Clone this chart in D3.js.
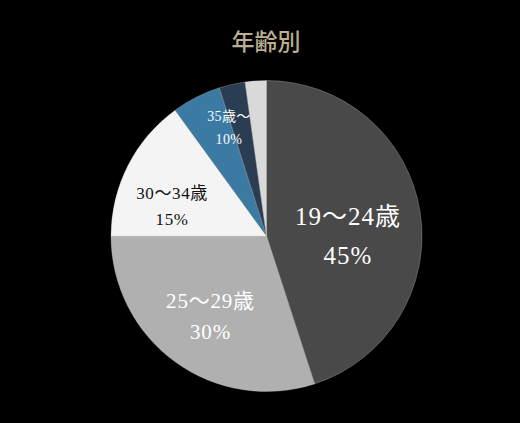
<!DOCTYPE html>
<html><head><meta charset="utf-8">
<script src="https://cdn.jsdelivr.net/npm/d3@7"></script>
<style>
html,body{margin:0;padding:0;background:#000;}
svg{display:block;}
text{font-family:"Liberation Serif","DejaVu Serif","Noto Sans CJK JP",serif;}
</style></head>
<body>
<svg id="chart" width="520" height="423"></svg>
<script>
const title = "年齢別";
const categories = ["19〜24歳","25〜29歳","30〜34歳","35〜39歳","40〜44歳","45歳〜"];
const values = [45, 30, 15, 5.1, 2.7, 2.2];
const colors = ["#494949","#b0b0b0","#f4f4f4","#3a7aa3","#2b3d53","#d9d9d9"];
const labelLines = [["19〜24歳","45%"],["25〜29歳","30%"],["30〜34歳","15%"],["35歳〜","10%"]];
const labelGroups = [[0],[1],[2],[3,4,5]];

const svg = d3.select("#chart");
const W = 520, H = 423;
const cx = 266.5, cy = 236, R = 155.5;

svg.append("rect").attr("width",W).attr("height",H).attr("fill","#000");

svg.append("text").attr("x",266).attr("y",50)
  .attr("text-anchor","middle").attr("font-size",23).attr("fill","#bcae90")
  .attr("font-family","'Noto Sans CJK JP',serif").attr("font-weight",500)
  .text(title);

const pie = d3.pie().sort(null).value(d=>d)(values);
const arc = d3.arc().innerRadius(0).outerRadius(R);
const g = svg.append("g").attr("transform",`translate(${cx},${cy})`);
g.selectAll("path").data(pie).join("path")
  .attr("d",arc).attr("fill",(d,i)=>colors[i])
  .attr("stroke","#cfcfcf").attr("stroke-width",0.3);

const labelStyle = [
  {r:0.55, dx:-3, dy:13, size:25, fill:"#ffffff", lh:39, ls:1},
  {r:0.58, dx:-3, dy:7, size:21, fill:"#ffffff", lh:31, ls:0.8},
  {r:0.66, dx:-3, dy:17, size:17, fill:"#111111", lh:26, ls:0.6},
  {r:0.74, dx:-2, dy:1, size:14, fill:"#ffffff", lh:23, ls:0.4}
];
labelGroups.forEach((grp,k)=>{
  const a0 = pie[grp[0]].startAngle, a1 = pie[grp[grp.length-1]].endAngle;
  const st = labelStyle[k];
  const la = d3.arc().innerRadius(R*st.r).outerRadius(R*st.r);
  const [x0,y0] = la.centroid({startAngle:a0,endAngle:a1});
  const x = x0 + st.dx, y = y0 + st.dy;
  const t = g.append("text").attr("text-anchor","middle")
    .attr("font-size",st.size).attr("fill",st.fill).attr("letter-spacing",st.ls);
  labelLines[k].forEach((ln,j)=>{
    t.append("tspan").attr("x",x)
     .attr("y", y + (j - (labelLines[k].length-1)/2)*st.lh + st.size*0.35)
     .text(ln);
  });
});
</script>
</body></html>
